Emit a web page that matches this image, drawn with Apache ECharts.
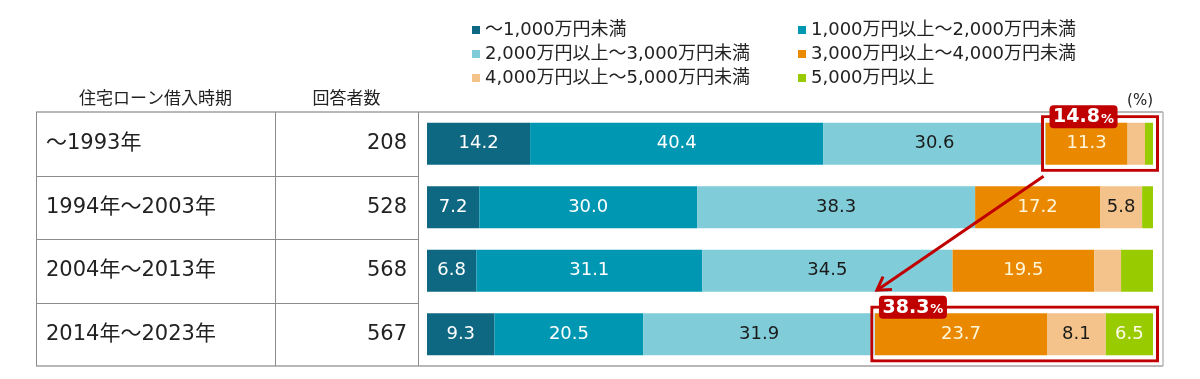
<!DOCTYPE html>
<html>
<head>
<meta charset="utf-8">
<script src="https://cdn.jsdelivr.net/npm/echarts@6/dist/echarts.min.js"></script>
<style>
html,body{margin:0;padding:0;background:#ffffff;}
#c{width:1200px;height:379px;}
</style>
</head>
<body>
<div id="c"></div>
<script>
// ---- data ----
const categories = ['～1993年', '1994年～2003年', '2004年～2013年', '2014年～2023年'];
const respondents = [208, 528, 568, 567];
const seriesNames = [
  '～1,000万円未満',
  '1,000万円以上～2,000万円未満',
  '2,000万円以上～3,000万円未満',
  '3,000万円以上～4,000万円未満',
  '4,000万円以上～5,000万円未満',
  '5,000万円以上'
];
const under1000 = [14.2, 7.2, 6.8, 9.3];
const from1000to2000 = [40.4, 30.0, 31.1, 20.5];
const from2000to3000 = [30.6, 38.3, 34.5, 31.9];
const from3000to4000 = [11.3, 17.2, 19.5, 23.7];
const from4000to5000 = [2.4, 5.8, 3.7, 8.1];
const over5000 = [1.1, 1.5, 4.4, 6.5];
const seriesValues = [under1000, from1000to2000, from2000to3000, from3000to4000, from4000to5000, over5000];
// highlighted groups: row index, first series included
const highlightRows = [0, 3];
const highlightFromSeries = 3;

// ---- style ----
const FONT = '"DejaVu Sans", "Noto Sans CJK JP", sans-serif';
const CJK = '"Noto Sans CJK JP", sans-serif';
const colors = ['#0f6882', '#0097b3', '#80ccd9', '#ea8800', '#f3c38b', '#99cc00'];
const labelColors = ['#ffffff', '#ffffff', '#1a1a1a', '#fff6d8', '#1a1a1a', '#fffbe8'];
const RED = '#c00000';
const BAR_W = 42;

const chart = echarts.init(document.getElementById('c'), null, {renderer: 'canvas'});

const series = seriesNames.map((name, k) => ({
  name: name,
  type: 'bar',
  stack: 'total',
  barWidth: BAR_W,
  yAxisIndex: 0,
  data: seriesValues[k],
  itemStyle: {color: colors[k]},
  label: {
    show: true,
    position: 'inside',
    fontFamily: FONT,
    fontSize: 18,
    color: labelColors[k],
    formatter: p => (p.value < 5 ? '' : p.value.toFixed(1))
  },
  emphasis: {disabled: true}
}));

const legendText = {fontFamily: FONT, fontSize: 18, color: '#222', lineHeight: 24};

chart.setOption({
  animation: false,
  backgroundColor: '#ffffff',
  grid: {left: 427, right: 47, top: 112, bottom: 13, containLabel: false},
  legend: [
    {
      data: [seriesNames[0], seriesNames[2], seriesNames[4]],
      orient: 'vertical', left: 467, top: 13, itemGap: 0,
      icon: 'rect', itemWidth: 8, itemHeight: 8,
      textStyle: legendText, selectedMode: false
    },
    {
      data: [seriesNames[1], seriesNames[3], seriesNames[5]],
      orient: 'vertical', left: 793, top: 13, itemGap: 0,
      icon: 'rect', itemWidth: 8, itemHeight: 8,
      textStyle: legendText, selectedMode: false
    }
  ],
  xAxis: {
    type: 'value', min: 0, max: 100, show: false
  },
  yAxis: [
    {
      type: 'category', data: categories, inverse: true, position: 'left',
      axisLine: {show: false}, axisTick: {show: false}, splitLine: {show: false},
      axisLabel: {align: 'left', margin: 381, fontFamily: FONT, fontSize: 21, color: '#222'}
    },
    {
      type: 'category', data: respondents.map(String), inverse: true, position: 'left',
      axisLine: {show: false}, axisTick: {show: false}, splitLine: {show: false},
      axisLabel: {align: 'right', margin: 20, fontFamily: FONT, fontSize: 21, color: '#222'}
    }
  ],
  series: series
});

// ---- table frame & annotations computed through the chart's scales ----
const yAt = i => chart.convertToPixel({yAxisIndex: 0}, i);
const xAt = v => chart.convertToPixel({xAxisIndex: 0}, v);
const half = (yAt(1) - yAt(0)) / 2;
const gTop = yAt(0) - half;
const gBottom = yAt(categories.length - 1) + half;
const tableLeft = 36, tableMid = 275, tableRight = 418, frameRight = 1163;

const els = [];
const lineEl = (x1, y1, x2, y2, stroke, w) => ({
  type: 'line', silent: true,
  shape: {x1, y1, x2, y2},
  style: {stroke, lineWidth: w}
});
// horizontal separators
els.push(lineEl(tableLeft, gTop, frameRight, gTop, '#b8b8b8', 2));
els.push(lineEl(tableLeft, gBottom, frameRight, gBottom, '#b8b8b8', 2));
for (let i = 1; i < categories.length; i++) {
  const y = Math.round(yAt(i) - half) + 0.5;
  els.push(lineEl(tableLeft, y, tableRight, y, '#8c8c8c', 1));
}
[tableLeft, tableMid, tableRight].forEach(x => els.push(lineEl(x + 0.5, gTop, x + 0.5, gBottom, '#8c8c8c', 1)));
els.push(lineEl(frameRight, gTop, frameRight, gBottom, '#b8b8b8', 1.5));

// headers
const hdr = (txt, x, y, align, size, fam) => ({
  type: 'text', silent: true,
  style: {text: txt, x, y, align, verticalAlign: 'middle', fontFamily: fam, fontSize: size, fill: '#222'}
});
els.push(hdr('住宅ローン借入時期', (tableLeft + tableMid) / 2, gTop - 14, 'center', 17, CJK));
els.push(hdr('回答者数', (tableMid + tableRight) / 2, gTop - 14, 'center', 17, CJK));
els.push(hdr('(%)', xAt(100), gTop - 11, 'right', 15, FONT));

// highlight boxes
const boxes = highlightRows.map(r => {
  let before = 0, total = 0, part = 0;
  seriesValues.forEach((arr, k) => {
    total += arr[r];
    if (k < highlightFromSeries) before += arr[r]; else part += arr[r];
  });
  const x0 = xAt(before), x1 = xAt(total), yc = yAt(r);
  return {x: x0 - 3, y: yc - BAR_W / 2 - 6, w: (x1 + 4.5) - (x0 - 3), h: BAR_W + 11.5, pct: part};
});
boxes.forEach(b => {
  els.push({type: 'rect', silent: true, z: 10,
    shape: {x: b.x, y: b.y, width: b.w, height: b.h},
    style: {fill: 'none', stroke: RED, lineWidth: 3}});
  els.push({type: 'rect', silent: true, z: 10,
    shape: {x: b.x + 2, y: b.y + 2, width: b.w - 4, height: b.h - 4},
    style: {fill: 'none', stroke: '#ffffff', lineWidth: 1}});
  const tw = 68, th = 23;
  els.push({type: 'rect', silent: true, z: 11,
    shape: {x: b.x + 7, y: b.y - th / 2, width: tw, height: th, r: 4},
    style: {fill: RED}});
  els.push({type: 'text', silent: true, z: 12,
    style: {
      text: '{a|' + b.pct.toFixed(1) + '}{b|%}',
      x: b.x + 7 + tw / 2, y: b.y + 0.5, align: 'center', verticalAlign: 'middle',
      rich: {
        a: {fontFamily: FONT, fontSize: 19, fontWeight: 'bold', fill: '#ffffff', color: '#ffffff'},
        b: {fontFamily: FONT, fontSize: 13, fontWeight: 'bold', fill: '#ffffff', color: '#ffffff', padding: [4, 0, 0, 1]}
      }
    }});
});

// arrow from first box to second box
const b0 = boxes[0], b1 = boxes[1];
const sx = b0.x + 1, sy = b0.y + b0.h + 6;
const ex = b1.x + 5, ey = b1.y - 17;
els.push({type: 'line', silent: true, z: 12,
  shape: {x1: sx, y1: sy, x2: ex, y2: ey},
  style: {stroke: RED, lineWidth: 3}});
const len = Math.hypot(ex - sx, ey - sy);
const ux = (sx - ex) / len, uy = (sy - ey) / len;
const rot = (a) => [ux * Math.cos(a) - uy * Math.sin(a), ux * Math.sin(a) + uy * Math.cos(a)];
const a1 = rot(0.55), a2 = rot(-0.55), AL = 15;
els.push({type: 'polyline', silent: true, z: 12,
  shape: {points: [[ex + a1[0] * AL, ey + a1[1] * AL], [ex, ey], [ex + a2[0] * AL, ey + a2[1] * AL]]},
  style: {stroke: RED, lineWidth: 3, fill: 'none', lineJoin: 'miter'}});

chart.setOption({graphic: {elements: els}});
</script>
</body>
</html>
